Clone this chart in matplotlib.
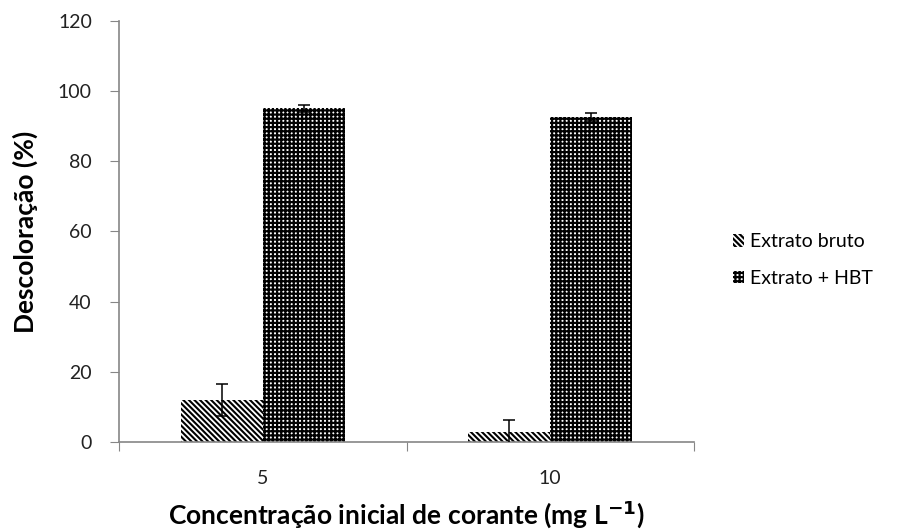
import matplotlib
matplotlib.use("Agg")
import matplotlib.pyplot as plt
import numpy as np

categories = ["5", "10"]
series_names = ["Extrato bruto", "Extrato + HBT"]
bruto_vals = [12.0, 2.8]
bruto_err = [4.5, 3.4]
hbt_vals = [95.1, 92.7]
hbt_err = [1.1, 1.2]
yticks = [0, 20, 40, 60, 80, 100, 120]

plt.rcParams['font.family'] = ['Lato', 'DejaVu Sans']

fig = plt.figure(figsize=(9.09, 5.32), dpi=100)
ax = fig.add_axes([0.1309, 0.1692, 0.6326, 0.7913])

x = np.arange(len(categories)) + 0.5
w = 1 / 3.5
BS = chr(92)

plt.rcParams['hatch.linewidth'] = 1.5
b1 = ax.bar(x - w / 2, bruto_vals, w, facecolor='white', edgecolor='black',
            linewidth=0, hatch=BS * 6, label=series_names[0], zorder=2)
plt.rcParams['hatch.linewidth'] = 1.6
b2 = ax.bar(x + w / 2, hbt_vals, w, facecolor='white', edgecolor='black',
            linewidth=0, hatch='+' * 4, label=series_names[1], zorder=2)
ax.errorbar(x - w / 2, bruto_vals, yerr=bruto_err, fmt='none', ecolor='black',
            elinewidth=1.1, capsize=4.5, capthick=1.1, zorder=3)
ax.errorbar(x + w / 2, hbt_vals, yerr=hbt_err, fmt='none', ecolor='black',
            elinewidth=1.1, capsize=4.5, capthick=1.1, zorder=3)

ax.set_xlim(0, len(categories))
ax.set_ylim(0, 120)
ax.set_yticks(yticks)
ax.set_yticklabels([str(v) for v in yticks], fontsize=14, color='#222222')
ax.set_xticks(range(len(categories) + 1))
ax.set_xticklabels([])
ax.set_xticks(x, minor=True)
ax.set_xticklabels(categories, minor=True, fontsize=14, color='#222222')
ax.tick_params(axis='x', which='minor', length=0, pad=20)
ax.tick_params(axis='x', which='major', length=6.5, color='#868686', direction='out')
ax.tick_params(axis='y', length=6.5, color='#868686', direction='out', pad=13)

for s in ['top', 'right']:
    ax.spines[s].set_visible(False)
for s in ['left', 'bottom']:
    ax.spines[s].set_color('#868686')
    ax.spines[s].set_linewidth(1.2)

ax.set_ylabel('Descoloração (%)', fontsize=19, fontweight='bold', va='center')
ax.yaxis.set_label_coords(-0.163, 0.5)
ax.set_xlabel('Concentração inicial de corante (mg L$^{' + BS + 'mathbf{-1}}$)',
              fontsize=19, fontweight='bold', va='center')
ax.xaxis.set_label_coords(0.5, -0.171)

leg = fig.legend(handles=[b1, b2], loc='center left', bbox_to_anchor=(0.806, 0.511),
                 frameon=False, fontsize=14, handlelength=0.6, handleheight=0.6,
                 handletextpad=0.3, labelspacing=1.0, borderpad=0, borderaxespad=0)

fig.savefig('out.png', dpi=100)
